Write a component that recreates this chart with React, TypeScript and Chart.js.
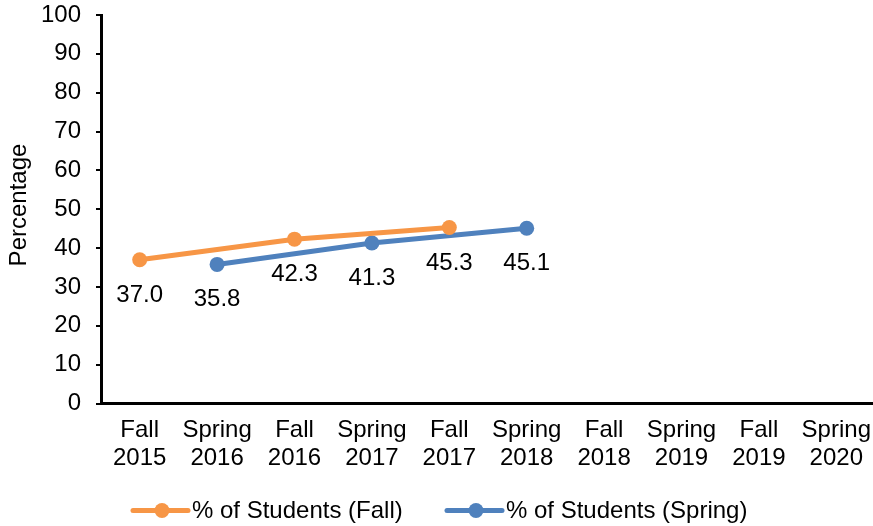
import React, { useEffect, useRef } from 'react';
import { Chart, registerables } from 'chart.js';

Chart.register(...registerables);

const categories: string[][] = [
  ['Fall', '2015'], ['Spring', '2016'], ['Fall', '2016'], ['Spring', '2017'], ['Fall', '2017'],
  ['Spring', '2018'], ['Fall', '2018'], ['Spring', '2019'], ['Fall', '2019'], ['Spring', '2020'],
];
const fallValues: (number | null)[] = [37.0, null, 42.3, null, 45.3, null, null, null, null, null];
const springValues: (number | null)[] = [null, 35.8, null, 41.3, null, 45.1, null, null, null, null];
const seriesNames = ['% of Students (Fall)', '% of Students (Spring)'];
const seriesColors = ['#F79646', '#4F81BD'];
const yMin = 0;
const yMax = 100;
const yStep = 10;
const yTitle = 'Percentage';

const FAMILY = '"Liberation Sans", Arial, Helvetica, sans-serif';
const FONT = `24px ${FAMILY}`;
const PLOT_RIGHT = 875;
const LEGEND_STARTS = [133, 447];

const areaPlugin = {
  id: 'areaFix',
  afterLayout(chart: any) {
    const xs = chart.scales.x;
    xs.right = PLOT_RIGHT;
    xs.width = PLOT_RIGHT - xs.left;
    xs.configure();
    chart.chartArea.right = PLOT_RIGHT;
    chart.chartArea.width = PLOT_RIGHT - chart.chartArea.left;
  },
};

const labelPlugin = {
  id: 'pointLabels',
  afterDatasetsDraw(chart: any) {
    const ctx = chart.ctx;
    ctx.save();
    ctx.font = FONT;
    ctx.fillStyle = '#000';
    ctx.textAlign = 'center';
    ctx.textBaseline = 'alphabetic';
    chart.data.datasets.forEach((ds: any, i: number) => {
      const meta = chart.getDatasetMeta(i);
      meta.data.forEach((pt: any, j: number) => {
        const v = ds.data[j];
        if (v === null || v === undefined) return;
        ctx.fillText(Number(v).toFixed(1), pt.x, pt.y + 42);
      });
    });
    ctx.restore();
  },
};

const decorPlugin = {
  id: 'decor',
  afterDraw(chart: any) {
    const ctx = chart.ctx;
    ctx.save();
    ctx.font = FONT;
    ctx.fillStyle = '#000';
    ctx.textAlign = 'center';
    ctx.textBaseline = 'alphabetic';
    ctx.translate(25.5, 205);
    ctx.rotate(-Math.PI / 2);
    ctx.fillText(yTitle, 0, 0);
    ctx.restore();

    ctx.save();
    ctx.font = FONT;
    const lineLen = 55;
    const ly = 510.5;
    seriesNames.forEach((name, i) => {
      const x = LEGEND_STARTS[i];
      const c = seriesColors[i];
      ctx.strokeStyle = c;
      ctx.lineWidth = 5;
      ctx.lineCap = 'round';
      ctx.beginPath();
      ctx.moveTo(x, ly);
      ctx.lineTo(x + lineLen, ly);
      ctx.stroke();
      ctx.fillStyle = c;
      ctx.beginPath();
      ctx.arc(x + 29, ly, 7.5, 0, Math.PI * 2);
      ctx.fill();
      ctx.fillStyle = '#000';
      ctx.textAlign = 'left';
      ctx.textBaseline = 'alphabetic';
      ctx.fillText(name, x + 59, 518);
    });
    ctx.restore();
  },
};

export default function App() {
  const ref = useRef<HTMLCanvasElement | null>(null);
  useEffect(() => {
    if (!ref.current) return;
    const mk = (i: number, data: (number | null)[]) => ({
      label: seriesNames[i],
      data,
      borderColor: seriesColors[i],
      backgroundColor: seriesColors[i],
      borderWidth: 5,
      pointRadius: 7.5,
      pointBorderWidth: 0,
      pointBackgroundColor: seriesColors[i],
      spanGaps: true,
      tension: 0,
    });
    const chart = new Chart(ref.current, {
      type: 'line',
      data: {
        labels: categories,
        datasets: [mk(0, fallValues), mk(1, springValues)],
      },
      options: {
        responsive: false,
        animation: false,
        devicePixelRatio: 1,
        layout: { padding: { left: 0, top: 15, right: 0, bottom: 0 } },
        plugins: {
          legend: { display: false },
          tooltip: { enabled: false },
        },
        scales: {
          x: {
            offset: true,
            grid: { display: false, drawTicks: false },
            border: { display: true, color: '#000', width: 3 },
            ticks: {
              color: '#000',
              font: { family: FAMILY, size: 24, lineHeight: 1.15 },
              padding: 13,
              maxRotation: 0,
              autoSkip: false,
            },
            afterFit(scale: any) {
              scale.height = 122.5;
              scale.paddingLeft = 0;
              scale.paddingRight = 0;
              scale.paddingTop = 0;
              scale.paddingBottom = 0;
            },
          },
          y: {
            min: yMin,
            max: yMax,
            grid: {
              display: true,
              drawOnChartArea: false,
              drawTicks: true,
              tickLength: 5,
              color: '#000',
              lineWidth: 2,
            },
            border: { display: true, color: '#000', width: 3 },
            ticks: {
              stepSize: yStep,
              color: '#000',
              font: { family: FAMILY, size: 24 },
              padding: 15,
            },
            afterFit(scale: any) {
              scale.width = 101;
              scale.paddingLeft = 0;
              scale.paddingRight = 0;
              scale.paddingTop = 0;
              scale.paddingBottom = 0;
            },
          },
        },
      },
      plugins: [areaPlugin, labelPlugin, decorPlugin],
    } as any);
    return () => chart.destroy();
  }, []);
  return (
    <div style={{ position: 'fixed', left: 0, top: 0, width: 873, height: 526, background: '#fff' }}>
      <canvas ref={ref} width={873} height={526} style={{ width: 873, height: 526, display: 'block' }} />
    </div>
  );
}
